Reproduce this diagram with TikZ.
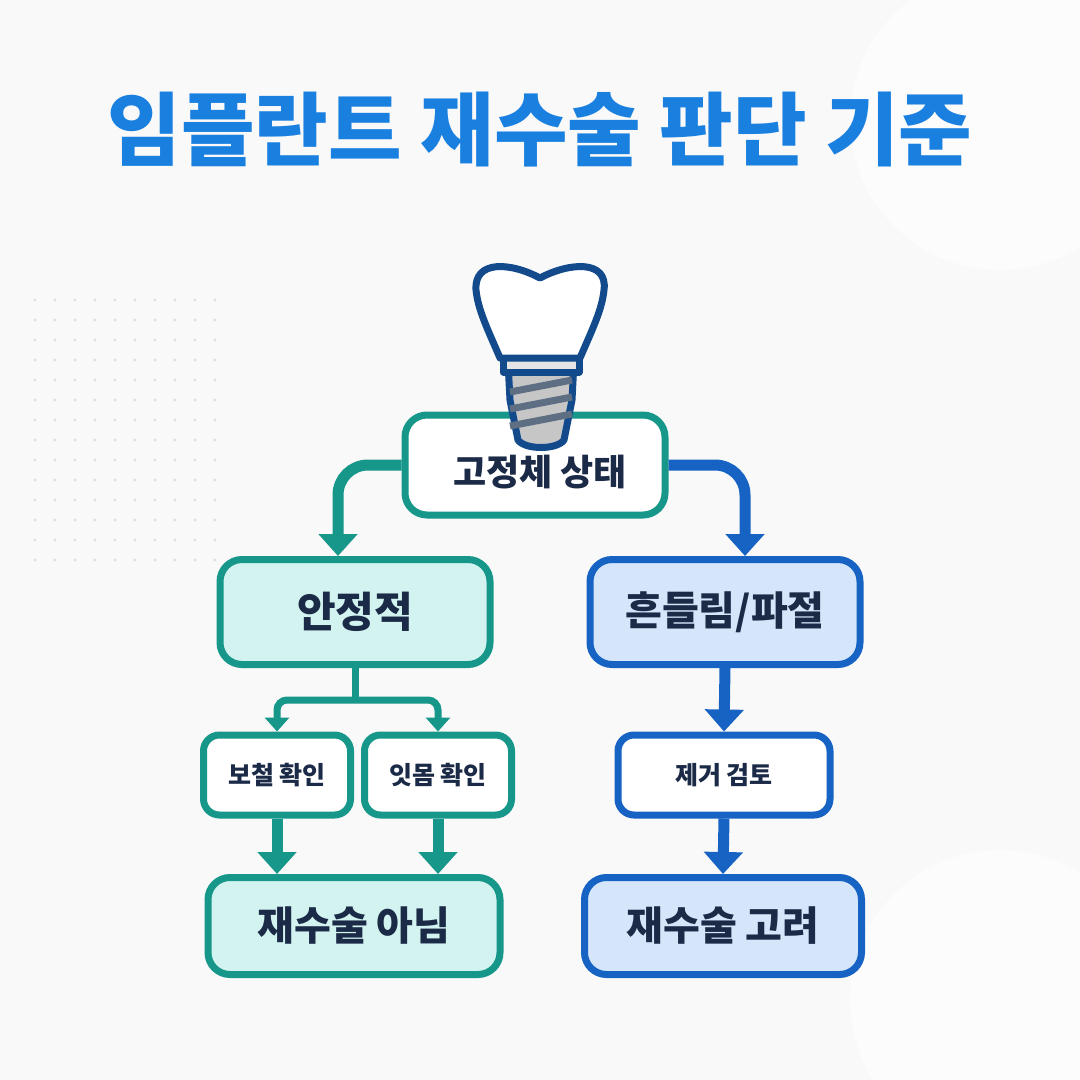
\documentclass[tikz,border=0pt]{standalone}
\usepackage{fontspec}
\setmainfont{Noto Sans CJK KR}
\usetikzlibrary{arrows.meta}
\definecolor{titleblue}{HTML}{1A80E0}
\definecolor{tealline}{HTML}{17968A}
\definecolor{tealfill}{HTML}{D2F3F0}
\definecolor{blueline}{HTML}{1763C4}
\definecolor{bluefill}{HTML}{D5E6FB}
\definecolor{navy}{HTML}{1B2A47}
\definecolor{toothline}{HTML}{124A8C}
\tikzset{
    box/.style={draw, line width=7pt, rounded corners=22pt, font=\bfseries, text=navy},
    tealbox/.style={box, draw=tealline, fill=tealfill},
    bluebox/.style={box, draw=blueline, fill=bluefill},
    flow/.style={line width=11pt, -{Triangle[length=22pt,width=38pt]}},
    smallflow/.style={line width=7pt, -{Triangle[length=14pt,width=24pt]}},
}
\begin{document}
\begin{tikzpicture}[x=1pt, y=-1pt]
    \useasboundingbox (0,0) rectangle (1080,1080);
    \fill[white!95!gray] (0,0) rectangle (1080,1080);
    \fill[white!98!gray] (1000,120) circle (150);
    \fill[white!98!gray] (1000,1000) circle (150);
    % dotted background
    \foreach \i in {0,...,9}
        \foreach \j in {0,...,13}
            \fill[gray!25] (35+\i*20, 300+\j*20) circle (1.6);
    \node[font=\bfseries\fontsize{80}{86}\selectfont, text=titleblue] (title) at (540,130) {임플란트 재수술 판단 기준};
    % boxes
    \node[box, draw=tealline, fill=white, minimum width=260pt, minimum height=100pt] (state) at (535,465) {};
    \node[tealbox, minimum width=270pt, minimum height=105pt, font=\bfseries\fontsize{42}{46}\selectfont] (stable) at (355,612) {안정적};
    \node[bluebox, minimum width=270pt, minimum height=105pt, font=\bfseries\fontsize{40}{46}\selectfont] (loose) at (725,612) {흔들림/파절};
    \node[box, draw=tealline, fill=white, minimum width=147pt, minimum height=80pt, rounded corners=16pt,
          font=\bfseries\fontsize{25}{30}\selectfont] (prosth) at (277,775) {보철 확인};
    \node[box, draw=tealline, fill=white, minimum width=147pt, minimum height=80pt, rounded corners=16pt,
          font=\bfseries\fontsize{25}{30}\selectfont] (gum) at (438,775) {잇몸 확인};
    \node[box, draw=blueline, fill=white, minimum width=212pt, minimum height=80pt, rounded corners=16pt,
          font=\bfseries\fontsize{25}{30}\selectfont] (remove) at (724,775) {제거 검토};
    \node[tealbox, minimum width=292pt, minimum height=97pt, font=\bfseries\fontsize{40}{46}\selectfont] (nosurg) at (354,926) {재수술 아님};
    \node[bluebox, minimum width=277pt, minimum height=97pt, font=\bfseries\fontsize{40}{46}\selectfont] (resurg) at (723,926) {재수술 고려};
    % connectors
    \coordinate (tl) at (338,465);
    \coordinate (tr) at (745,465);
    \draw[flow, tealline, rounded corners=30pt] (state.west) -- (tl) -- (tl |- stable.north);
    \draw[flow, blueline, rounded corners=30pt] (state.east) -- (tr) -- (tr |- loose.north);
    \draw[line width=7pt, tealline] (stable.south) -- ++(0,32) coordinate (split);
    \draw[smallflow, tealline, rounded corners=10pt] (split) -| (prosth.north);
    \draw[smallflow, tealline, rounded corners=10pt] (split) -| (gum.north);
    \draw[flow, tealline] (prosth.south) -- (prosth.south |- nosurg.north);
    \draw[flow, tealline] (gum.south) -- (gum.south |- nosurg.north);
    \draw[flow, blueline] (loose.south) -- (remove.north);
    \draw[flow, blueline] (remove.south) -- (resurg.north);
    % tooth icon
    \begin{scope}[line width=7pt, draw=toothline, line join=round]
        \fill[gray!45] (508,368) -- (574,368) -- (564,440) -- (552,447) -- (530,447) -- (518,440) -- cycle;
        \draw (508,362) -- (510,400) -- (518,440) .. controls (525,450) and (557,450) .. (564,440) -- (572,400) -- (574,362);
        \foreach \k in {0,1,2}
            \draw[gray!70!toothline, line width=7pt] (510,392+\k*17) -- (572,380+\k*17);
        \draw[fill=gray!20] (503,356) rectangle (579,372);
        \draw[fill=white] (500,358) .. controls (488,330) and (478,310) .. (476,290)
            .. controls (474,260) and (510,262) .. (540,278)
            .. controls (570,262) and (608,260) .. (604,290)
            .. controls (602,310) and (592,330) .. (580,358) -- cycle;
    \end{scope}
    \node[font=\bfseries\fontsize{36}{40}\selectfont, text=navy] (statetext) at (540,472) {고정체 상태};
\end{tikzpicture}
\end{document}
